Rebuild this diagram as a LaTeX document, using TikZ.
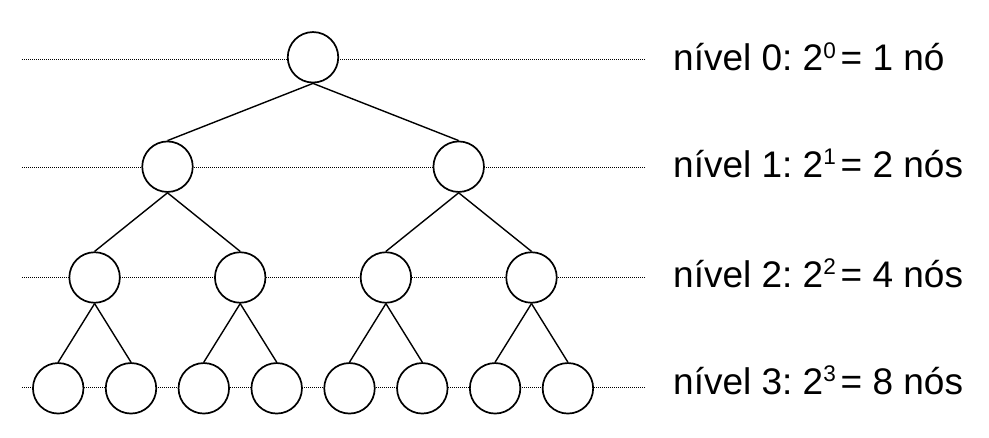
\documentclass[tikz,border=0pt]{standalone}
\usepackage{fontspec}
\setmainfont{Liberation Sans}
\newcommand{\supnum}[1]{\raisebox{12.6pt}{\scalebox{0.61}{#1}}\hspace{4.8pt}}
\begin{document}
\begin{tikzpicture}[x=1pt,y=-1pt,
  nd/.style={circle,draw,fill=white,line width=1.7pt,minimum size=50.5pt,inner sep=0pt},
  edge/.style={line width=1.4pt},
  guide/.style={line width=1pt,dash pattern=on 1pt off 1pt},
  lbl/.style={anchor=base west,inner sep=0pt,font=\fontsize{37}{42}\selectfont\frenchspacing}]
\useasboundingbox (0,0) rectangle (989,438);
% guide lines
\coordinate (g0a) at (22,59.5); \coordinate (g0b) at (645,59.5);
\coordinate (g1a) at (22,167.5); \coordinate (g1b) at (645,167.5);
\coordinate (g2a) at (22,278); \coordinate (g2b) at (645,278);
\coordinate (g3a) at (22,387.7); \coordinate (g3b) at (645,387.7);
\draw[guide] (g0a) -- (g0b);
\draw[guide] (g1a) -- (g1b);
\draw[guide] (g2a) -- (g2b);
\draw[guide] (g3a) -- (g3b);
% nodes
\node[nd] (r) at (313,57.3) {};
\node[nd] (a) at (167.5,166.7) {};
\node[nd] (b) at (458.7,166.7) {};
\node[nd] (a1) at (94.6,277.5) {};
\node[nd] (a2) at (240.2,277.5) {};
\node[nd] (b1) at (385.9,277.5) {};
\node[nd] (b2) at (531.5,277.5) {};
\node[nd] (c1) at (58.2,388.3) {};
\node[nd] (c2) at (131,388.3) {};
\node[nd] (c3) at (203.8,388.3) {};
\node[nd] (c4) at (276.7,388.3) {};
\node[nd] (c5) at (349.5,388.3) {};
\node[nd] (c6) at (422.3,388.3) {};
\node[nd] (c7) at (495.1,388.3) {};
\node[nd] (c8) at (567.9,388.3) {};
% edges
\draw[edge] (r.south) -- (a.north);
\draw[edge] (r.south) -- (b.north);
\draw[edge] (a.south) -- (a1.north);
\draw[edge] (a.south) -- (a2.north);
\draw[edge] (b.south) -- (b1.north);
\draw[edge] (b.south) -- (b2.north);
\draw[edge] (a1.south) -- (c1.north);
\draw[edge] (a1.south) -- (c2.north);
\draw[edge] (a2.south) -- (c3.north);
\draw[edge] (a2.south) -- (c4.north);
\draw[edge] (b1.south) -- (c5.north);
\draw[edge] (b1.south) -- (c6.north);
\draw[edge] (b2.south) -- (c7.north);
\draw[edge] (b2.south) -- (c8.north);
% labels
\node[lbl] (l0) at (673,71) {nível 0: 2\supnum{0}= 1 nó};
\node[lbl] (l1) at (673,177.3) {nível 1: 2\supnum{1}= 2 nós};
\node[lbl] (l2) at (673,287.3) {nível 2: 2\supnum{2}= 4 nós};
\node[lbl] (l3) at (673,394.3) {nível 3: 2\supnum{3}= 8 nós};
\end{tikzpicture}
\end{document}
